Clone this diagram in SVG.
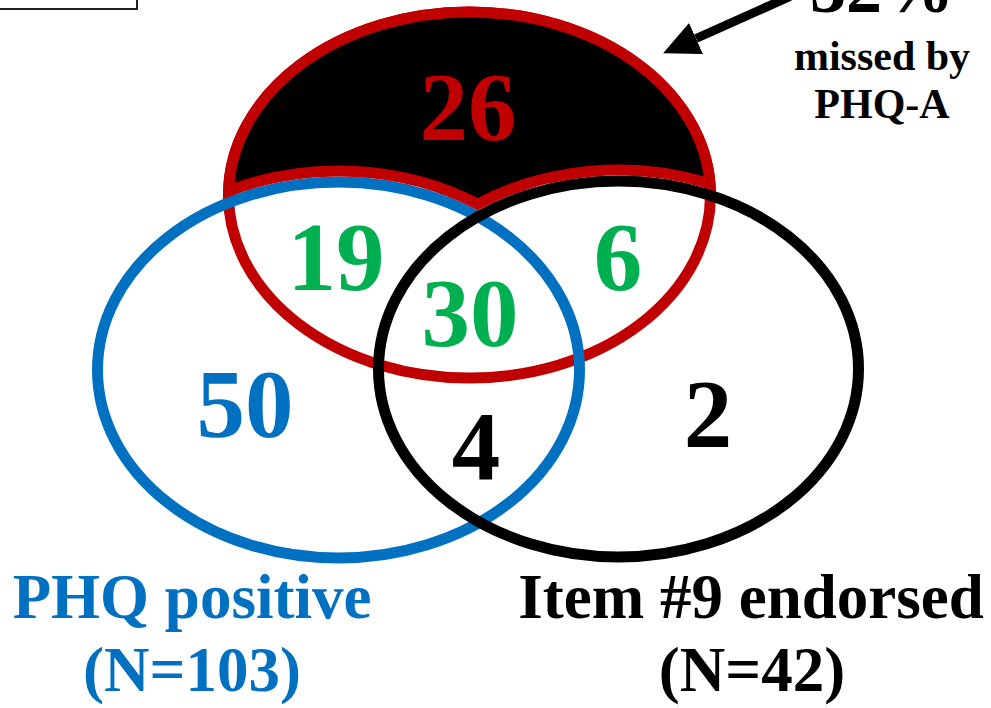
<svg xmlns="http://www.w3.org/2000/svg" width="991" height="708" viewBox="0 0 991 708">
  <defs>
    <style>
      .t { font-family: "Liberation Serif", "Times New Roman", serif; font-weight: bold; text-anchor: middle; }
      .num { font-size: 97px; }
      .lab { font-size: 63px; }
      .note { font-size: 42px; fill: #000; }
      .ring { fill: none; stroke-width: 11; }
    </style>
    <marker id="arrowHead" markerUnits="userSpaceOnUse" viewBox="0 0 36 34" refX="0" refY="17" markerWidth="36" markerHeight="34" orient="auto">
      <path d="M0,0 L36,17 L0,34 Z" fill="#000"/>
    </marker>
  </defs>
  <rect width="991" height="708" fill="#fff"/>

  <g id="legend-box">
    <rect x="-5" y="-40" width="142" height="49" fill="#fff" stroke="#222" stroke-width="2"/>
  </g>

  <g id="set-phqa">
    <ellipse class="ring" cx="469.5" cy="195" rx="241" ry="183" stroke="#C00000"/>
  </g>
  <g id="set-phq">
    <ellipse class="ring" cx="338.5" cy="370" rx="241" ry="188" stroke="#0070C0"/>
  </g>
  <g id="set-item9">
    <ellipse class="ring" cx="618.5" cy="369" rx="240" ry="188" stroke="#000"/>
  </g>
  <g id="missed-region">
    <path d="M228.6,191 A241,183 0 0 1 469.5,12 A241,183 0 0 1 710,183.7 A251,199 0 0 0 477.8,204.2 A252,199 0 0 0 228.6,191 Z" fill="#000" stroke="#C00000" stroke-width="11"/>
  </g>

  <g id="counts">
    <text class="t num" x="468" y="140" fill="#C00000">26</text>
    <text class="t num" x="336" y="290" fill="#00B050">19</text>
    <text class="t num" x="618" y="290" fill="#00B050">6</text>
    <text class="t num" x="470" y="346" fill="#00B050">30</text>
    <text class="t num" x="245" y="437" fill="#0070C0">50</text>
    <text class="t num" x="476" y="479" fill="#000">4</text>
    <text class="t num" x="708" y="447" fill="#000">2</text>
  </g>

  <g id="label-phq">
    <text class="t lab" x="192" y="618" fill="#0070C0">PHQ positive</text>
    <text class="t lab" x="192" y="691" fill="#0070C0">(N=103)</text>
  </g>
  <g id="label-item9">
    <text class="t lab" x="751" y="618" fill="#000">Item #9 endorsed</text>
    <text class="t lab" x="752" y="691" fill="#000">(N=42)</text>
  </g>

  <g id="annotation">
    <text class="t" x="882" y="12" font-size="72" fill="#000">32%</text>
    <text class="t note" x="882" y="70">missed by</text>
    <text class="t note" x="882" y="118">PHQ-A</text>
  </g>

  <g id="connectors">
    <line x1="790" y1="-3.5" x2="696" y2="38.5" stroke="#000" stroke-width="9" marker-end="url(#arrowHead)"/>
  </g>
</svg>
